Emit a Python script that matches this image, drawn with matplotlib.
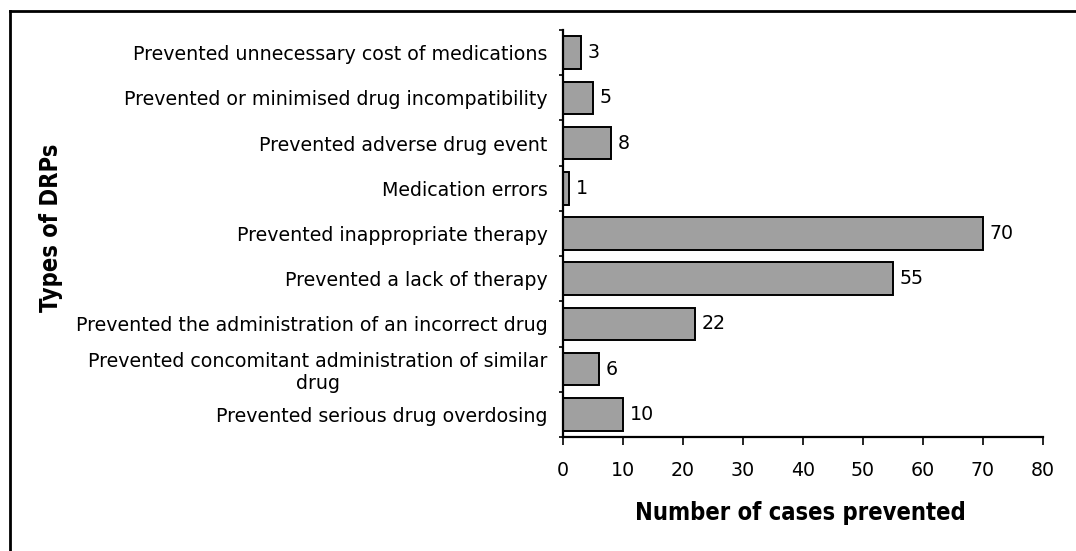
import matplotlib
matplotlib.use("Agg")
import matplotlib.pyplot as plt
from matplotlib.lines import Line2D

categories = [
    "Prevented unnecessary cost of medications",
    "Prevented or minimised drug incompatibility",
    "Prevented adverse drug event",
    "Medication errors",
    "Prevented inappropriate therapy",
    "Prevented a lack of therapy",
    "Prevented the administration of an incorrect drug",
    "Prevented concomitant administration of similar\ndrug",
    "Prevented serious drug overdosing",
]
cases = [3, 5, 8, 1, 70, 55, 22, 6, 10]
x_ticks = [0, 10, 20, 30, 40, 50, 60, 70, 80]

plt.rcParams["font.family"] = ["DejaVu Sans"]
FS = 13.7

fig = plt.figure(figsize=(10.76, 5.51), dpi=100)
ax = fig.add_axes([0.5232, 0.2069, 0.9693 - 0.5232, 0.9456 - 0.2069])

ypos = list(range(len(categories)))
ax.barh(ypos, cases, height=0.72, color="#a0a0a0", edgecolor="black", linewidth=1.4)
ax.set_ylim(len(categories) - 0.5, -0.5)
ax.set_xlim(0, 80)

# category boundaries carry the tick marks, centres carry the labels
ax.set_yticks([i + 0.5 for i in range(-1, len(categories))])
ax.set_yticklabels([])
ax.set_yticks(ypos, minor=True)
ax.set_yticklabels(categories, minor=True, fontsize=FS, multialignment="center")
ax.tick_params(axis="y", which="minor", length=0, pad=11)
ax.tick_params(axis="y", which="major", length=3, width=1.2, direction="out")
ax.set_xticks(x_ticks)
ax.set_xticklabels([str(t) for t in x_ticks], fontsize=FS)
ax.tick_params(axis="x", length=6, width=1.2, direction="out", pad=11)

for s in ["top", "right"]:
    ax.spines[s].set_visible(False)
for s in ["left", "bottom"]:
    ax.spines[s].set_linewidth(1.6)

for y, v in zip(ypos, cases):
    ax.annotate(str(v), xy=(v, y), xytext=(5, 0), textcoords="offset points",
                va="center", ha="left", fontsize=FS)

fig.text(0.744, 0.069, "Number of cases prevented", ha="center", va="center",
         fontsize=17, fontweight="bold", fontstretch="condensed")
fig.text(0.047, 0.586, "Types of DRPs", rotation=90, ha="center", va="center",
         fontsize=17, fontweight="bold", fontstretch="condensed")

# outer frame (left and top edges)
fig.add_artist(Line2D([0.0093, 0.0093], [0, 0.98], transform=fig.transFigure,
                      color="black", linewidth=2))
fig.add_artist(Line2D([0.0093, 1.0], [0.98, 0.98], transform=fig.transFigure,
                      color="black", linewidth=2))

fig.savefig("out.png", dpi=100)
